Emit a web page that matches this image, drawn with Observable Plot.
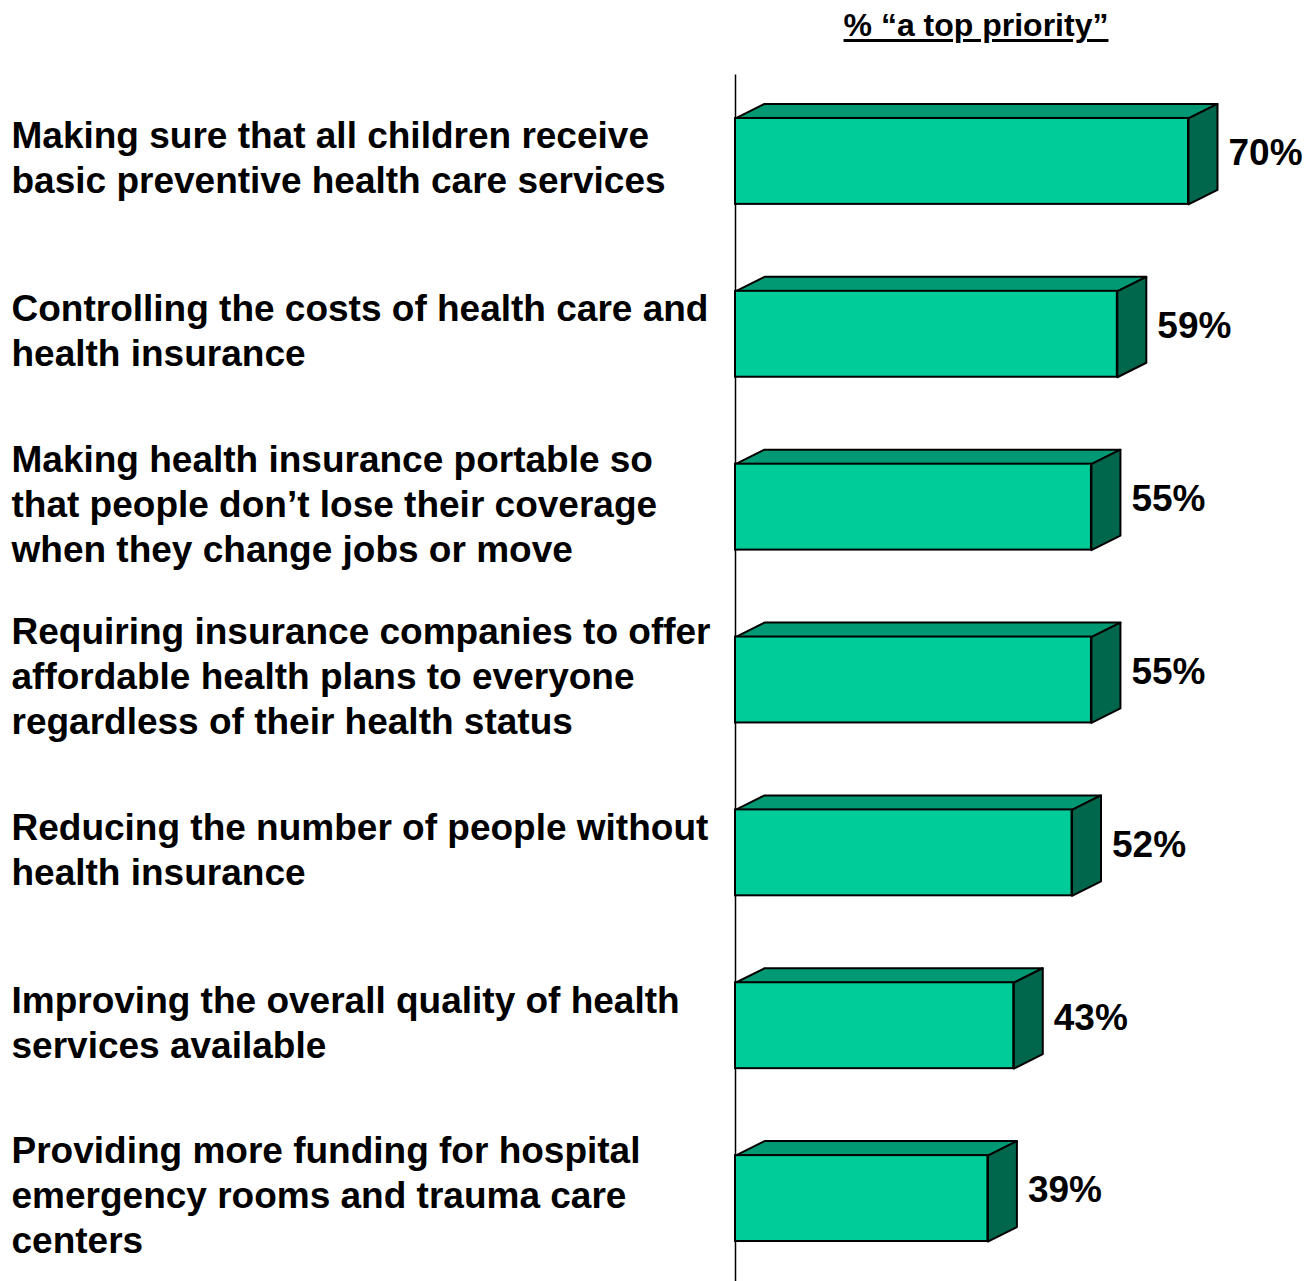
<!DOCTYPE html>
<html>
<head>
<meta charset="utf-8">
<script src="https://cdn.jsdelivr.net/npm/d3@7"></script>
<script src="https://cdn.jsdelivr.net/npm/@observablehq/plot@0.6"></script>
<style>
  html, body { margin: 0; padding: 0; background: #fff; }
  #wrap { position: relative; width: 1311px; }
  #title { position: relative; height: 60px; }
  #title span {
    position: absolute; left: 676px; width: 600px; top: 7px; text-align: center;
    font-family: "Liberation Sans", Arial, sans-serif; font-weight: bold; font-size: 32px;
    text-decoration: underline; text-decoration-thickness: 3px; text-underline-offset: 3px;
  }
  svg { display: block; }
</style>
</head>
<body>
<div id="wrap">
  <div id="title"><span>% “a top priority”</span></div>
  <div id="chart"></div>
</div>
<script>
const categories = [
  "Making sure that all children receive\nbasic preventive health care services",
  "Controlling the costs of health care and\nhealth insurance",
  "Making health insurance portable so\nthat people don’t lose their coverage\nwhen they change jobs or move",
  "Requiring insurance companies to offer\naffordable health plans to everyone\nregardless of their health status",
  "Reducing the number of people without\nhealth insurance",
  "Improving the overall quality of health\nservices available",
  "Providing more funding for hospital\nemergency rooms and trauma care\ncenters"
];
const values = [70, 59, 55, 55, 52, 43, 39];
const valueLabels = ["70%", "59%", "55%", "55%", "52%", "43%", "39%"];

// geometry constants (in scale units)
const pxPerX = (1188 - 735) / 70;
const pxPerY = (1224.5 - 14.5) / 7;
const DX = 29 / pxPerX;     // depth horizontally
const DY = 14.5 / pxPerY;   // depth vertically
const PAD = 0.2515;

const rows = categories.map((c, i) => ({
  i, label: c, value: values[i], text: valueLabels[i],
  y1: i + PAD, y2: i + 1 - PAD, yc: i + 0.5
}));

const topPts = [];
const sidePts = [];
rows.forEach(r => {
  topPts.push({bar: r.i, x: 0, y: r.y1});
  topPts.push({bar: r.i, x: r.value, y: r.y1});
  topPts.push({bar: r.i, x: r.value + DX, y: r.y1 - DY});
  topPts.push({bar: r.i, x: DX, y: r.y1 - DY});
  sidePts.push({bar: r.i, x: r.value, y: r.y1});
  sidePts.push({bar: r.i, x: r.value + DX, y: r.y1 - DY});
  sidePts.push({bar: r.i, x: r.value + DX, y: r.y2 - DY});
  sidePts.push({bar: r.i, x: r.value, y: r.y2});
});

const font = "'Liberation Sans', Arial, sans-serif";

const chart = Plot.plot({
  width: 1311,
  height: 1221,
  marginLeft: 11,
  marginRight: 0,
  marginTop: 0,
  marginBottom: 0,
  style: {fontFamily: font, background: "#fff"},
  x: {domain: [0, 70], range: [735, 1188], axis: null},
  y: {domain: [0, 7], range: [14.5, 1224.5], axis: null},
  marks: [
    Plot.ruleX([0], {y1: 0, y2: 7, stroke: "#000", strokeWidth: 1.5}),
    Plot.line(topPts, {x: "x", y: "y", z: "bar", curve: "linear-closed",
      fill: "#009973", stroke: "#000", strokeWidth: 2, strokeLinejoin: "round"}),
    Plot.line(sidePts, {x: "x", y: "y", z: "bar", curve: "linear-closed",
      fill: "#00664C", stroke: "#000", strokeWidth: 2, strokeLinejoin: "round"}),
    Plot.rect(rows, {x1: 0, x2: "value", y1: "y1", y2: "y2",
      fill: "#00CC99", stroke: "#000", strokeWidth: 2}),
    Plot.text(rows, {x: "value", y: "yc", text: "text", textAnchor: "start",
      dx: 40, dy: -8, fontSize: 37, fontWeight: "bold", fill: "#000"}),
    Plot.text(rows, {y: "yc", text: "label", frameAnchor: "left", textAnchor: "start",
      dy: -5, lineHeight: 1.216, fontSize: 37, fontWeight: "bold", fill: "#000"})
  ]
});
document.getElementById("chart").appendChild(chart);
</script>
</body>
</html>
